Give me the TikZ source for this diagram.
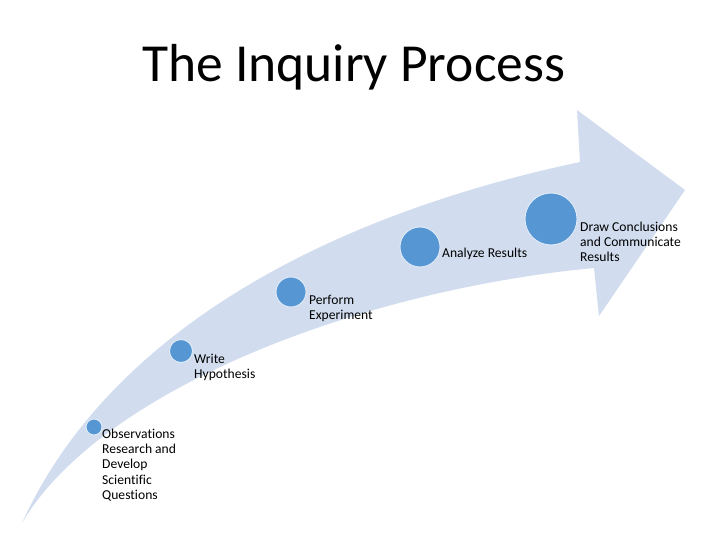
\documentclass[tikz,border=0pt]{standalone}
\usepackage{fontspec}
\setmainfont{Carlito}[Ligatures=NoCommon]
\usetikzlibrary{positioning}
\definecolor{bandblue}{RGB}{209,221,239}
\definecolor{dotblue}{RGB}{86,151,211}
\definecolor{dotrim}{RGB}{225,236,248}
\tikzset{
    stepdot/.style={circle, fill=dotblue, draw=dotrim, line width=0.9pt, inner sep=0pt, minimum size=#1},
    steplabel/.style={anchor=base west, inner sep=0pt, align=left, font=\fontsize{13.6}{15.4}\selectfont}
}
\begin{document}
\begin{tikzpicture}[x=1pt, y=-1pt]
    \useasboundingbox (0,0) rectangle (720,540);
    \fill[white] (0,0) rectangle (720,540);
    % curved arrow
    \coordinate (tail) at (22,523);
    \coordinate (up) at (580,162);
    \coordinate (lo) at (594,268);
    \coordinate (headtop) at (577,110);
    \coordinate (tip) at (685,190);
    \coordinate (headbot) at (599,316);
    \fill[bandblue] (tail) .. controls (110,330) and (330,215) .. (up)
        -- (headtop) -- (tip) -- (headbot) -- (lo)
        .. controls (360,290) and (100,390) .. (tail) -- cycle;
    % steps (labels sit on the baseline of their last line)
    \node[stepdot=16pt] (s1) at (94,427) {};
    \node[stepdot=23pt] (s2) at (181,351) {};
    \node[stepdot=30pt] (s3) at (291,292) {};
    \node[stepdot=40pt] (s4) at (420,247) {};
    \node[stepdot=52pt] (s5) at (551,219) {};
    \node[steplabel] (l1) at (102,499.6) {Observations\\Research and\\Develop\\Scientific\\Questions};
    \node[steplabel] (l2) at (194,378.4) {Write\\Hypothesis};
    \node[steplabel] (l3) at (309,319.4) {Perform\\Experiment};
    \node[steplabel] (l4) at (442,258) {Analyze Results};
    \node[steplabel] (l5) at (580,261.8) {Draw Conclusions\\and Communicate\\Results};
    \node[anchor=base west, inner sep=0pt, font=\fontsize{53.5}{60}\selectfont] (title) at (142,82) {The Inquiry Process};
\end{tikzpicture}
\end{document}
